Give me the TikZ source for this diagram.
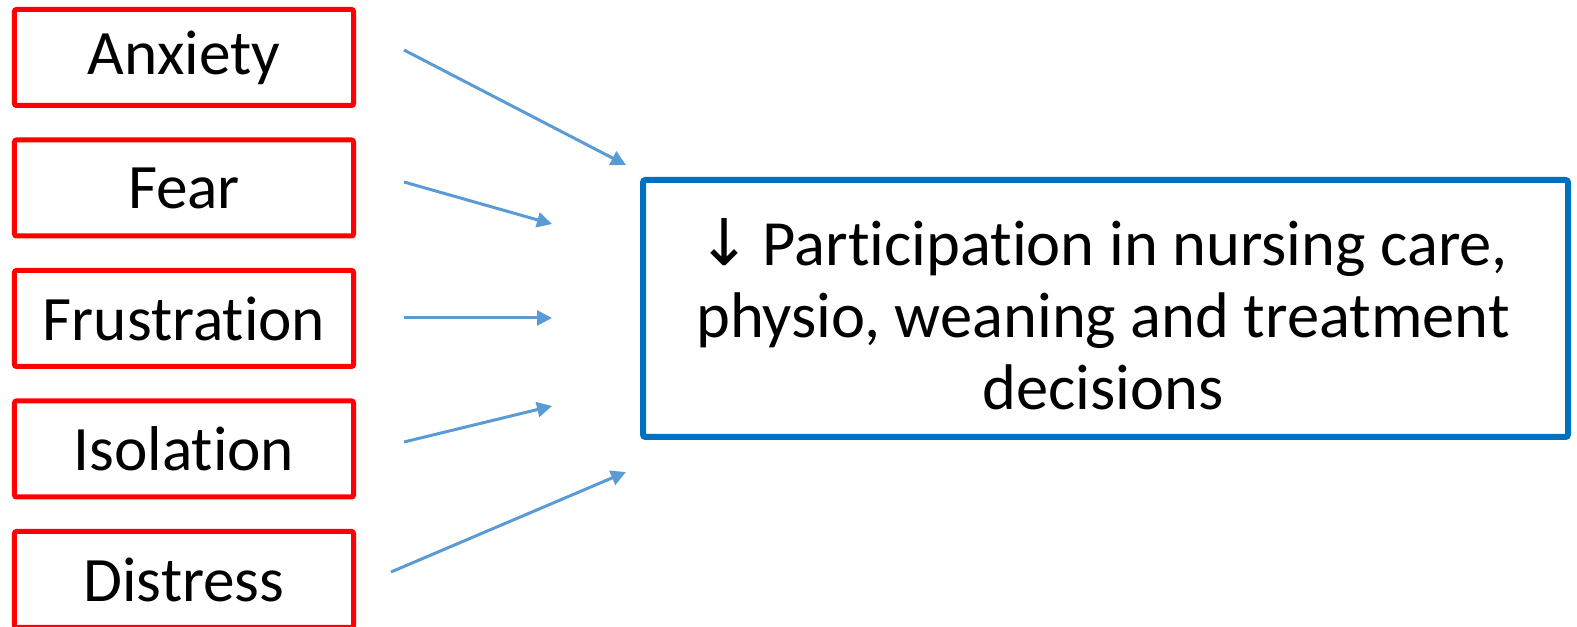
\documentclass[tikz,border=0pt]{standalone}
\usepackage{fontspec}
\setmainfont{Carlito}[Ligatures=NoCommon]
\newfontfamily\arrowfont{DejaVu Sans}
\usetikzlibrary{arrows.meta}
\definecolor{boxred}{HTML}{FF0000}
\definecolor{boxblue}{HTML}{0070C0}
\definecolor{feedblue}{HTML}{5B9BD5}
\tikzset{
  cause/.style={draw=boxred, line width=0.1cm, rounded corners=0.04cm,
    minimum width=6.78cm, minimum height=1.92cm, font=\fontsize{36}{43}\selectfont},
  effect/.style={draw=boxblue, line width=0.12cm, rounded corners=0.05cm,
    minimum width=18.5cm, minimum height=5.14cm},
  effecttext/.style={align=center, font=\fontsize{36.7}{41}\selectfont},
  feed/.style={draw=feedblue, line width=0.06cm, -{Triangle[length=0.3cm,width=0.3cm]}}
}
\begin{document}
\begin{tikzpicture}
    \useasboundingbox (0,0) rectangle (31.54,-12.54);
    % fattori a sinistra
    \foreach \lab/\nm [count=\i] in {Anxiety/anx,Fear/fear,Frustration/frus,Isolation/iso,Distress/dis} {
      \node[cause] (\nm) at (3.68,{-1.15-2.61*(\i-1)}) {\lab};
    }
    % esito
    \node[effect] (part) at (22.11,-6.17) {};
    \node[effecttext] (parttxt) at ([xshift=-0.05cm,yshift=-0.12cm]part.center)
      {{\arrowfont ↓}\,Participation in nursing care,\\ physio, weaning and treatment\\ decisions};
    % estremi delle frecce
    \coordinate (s1) at (8.08,-1.0);   \coordinate (t1) at (12.52,-3.3);
    \coordinate (s2) at (8.08,-3.64);  \coordinate (t2) at (11.04,-4.48);
    \coordinate (s3) at (8.08,-6.36);  \coordinate (t3) at (11.04,-6.36);
    \coordinate (s4) at (8.08,-8.84);  \coordinate (t4) at (11.04,-8.12);
    \coordinate (s5) at (7.82,-11.44); \coordinate (t5) at (12.52,-9.44);
    \foreach \k in {1,...,5} {
      \draw[feed] (s\k) -- (t\k);
    }
\end{tikzpicture}
\end{document}
